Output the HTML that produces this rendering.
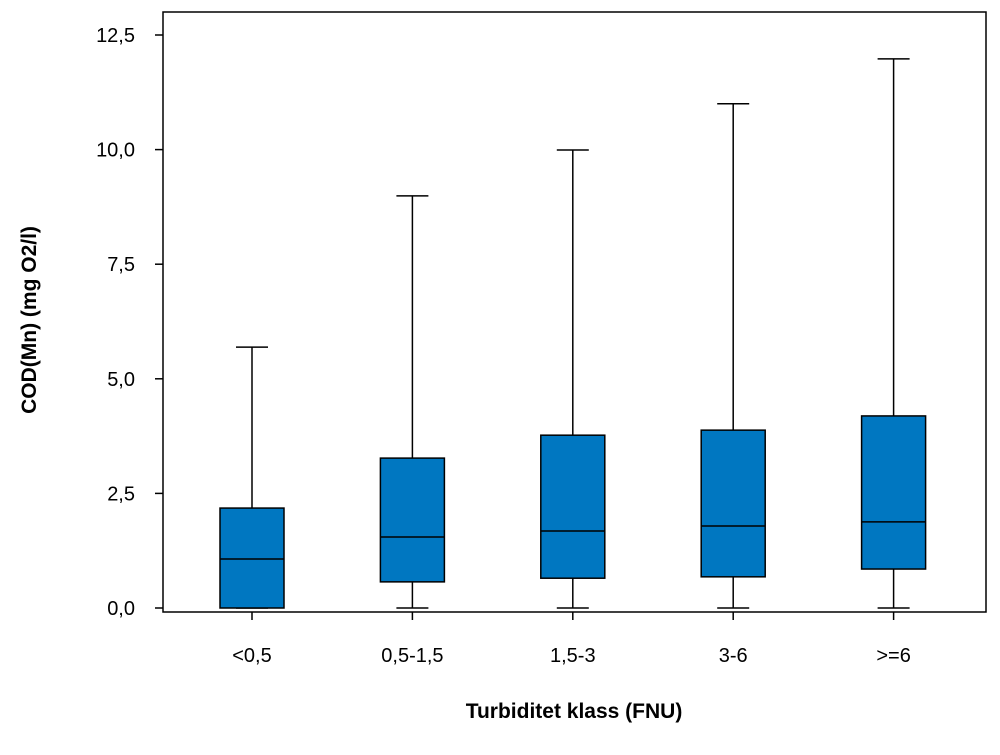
<!DOCTYPE html>
<html><head><meta charset="utf-8"><style>
body{margin:0;background:#fff;}
svg text{font-family:"Liberation Sans",sans-serif;fill:#000;}
</style></head><body>
<svg id="chart" width="1000" height="750">
<rect x="163" y="12" width="823" height="600" fill="none" stroke="#000" stroke-width="1.5"/>
<g id="yaxis"></g><g id="xaxis"></g><g id="boxes"></g>
<text x="36" y="320" transform="rotate(-90 36 320)" text-anchor="middle" font-size="21" font-weight="bold">COD(Mn) (mg O2/l)</text>
<text x="574" y="718" text-anchor="middle" font-size="21" font-weight="bold">Turbiditet klass (FNU)</text>
</svg>
<script>
const categories=["<0,5","0,5-1,5","1,5-3","3-6",">=6"];
const mins=[0,0,0,0,0];
const q1s=[0,0.57,0.65,0.68,0.85];
const medians=[1.07,1.55,1.68,1.79,1.88];
const q3s=[2.18,3.27,3.77,3.88,4.19];
const maxs=[5.69,8.99,9.99,11.0,11.98];
const yTicks=[0,2.5,5,7.5,10,12.5];
const yTickLabels=["0,0","2,5","5,0","7,5","10,0","12,5"];
const NS="http://www.w3.org/2000/svg";
const y=v=>608-v*45.84;
const x=i=>252+i*160.4;
function mk(tag,attrs,parent){const e=document.createElementNS(NS,tag);for(const k in attrs)e.setAttribute(k,attrs[k]);parent.appendChild(e);return e;}
const ya=document.getElementById('yaxis'),xa=document.getElementById('xaxis'),bx=document.getElementById('boxes');
yTicks.forEach((t,i)=>{
 const l=mk('line',{x1:155,x2:163,y1:y(t),y2:y(t),stroke:'#000','stroke-width':1.5},ya);
 
 
 const tx=mk('text',{x:135,y:y(t)+7,'text-anchor':'end','font-size':20},ya);
 tx.textContent=yTickLabels[i];
 
 
});
categories.forEach((c,i)=>{
 const l=mk('line',{x1:x(i),x2:x(i),y1:612,y2:620,stroke:'#000','stroke-width':1.5},xa);
 
 
 const tx=mk('text',{x:x(i),y:662,'text-anchor':'middle','font-size':20},xa);
 tx.textContent=c;
 
 
 const g=mk('g',{},bx);
 
 
 const cx=x(i);
 mk('line',{x1:cx,x2:cx,y1:y(maxs[i]),y2:y(q3s[i]),stroke:'#000','stroke-width':1.5},g);
 mk('line',{x1:cx,x2:cx,y1:y(q1s[i]),y2:y(mins[i]),stroke:'#000','stroke-width':1.5},g);
 mk('line',{x1:cx-16,x2:cx+16,y1:y(maxs[i]),y2:y(maxs[i]),stroke:'#000','stroke-width':1.5},g);
 mk('line',{x1:cx-16,x2:cx+16,y1:y(mins[i]),y2:y(mins[i]),stroke:'#000','stroke-width':1.5},g);
 mk('rect',{x:cx-32,y:y(q3s[i]),width:64,height:Math.max(y(q1s[i])-y(q3s[i]),0),fill:'#0077C1',stroke:'#000','stroke-width':1.5},g);
 mk('line',{x1:cx-32,x2:cx+32,y1:y(medians[i]),y2:y(medians[i]),stroke:'#000','stroke-width':1.5},g);
});
</script>
</body></html>
